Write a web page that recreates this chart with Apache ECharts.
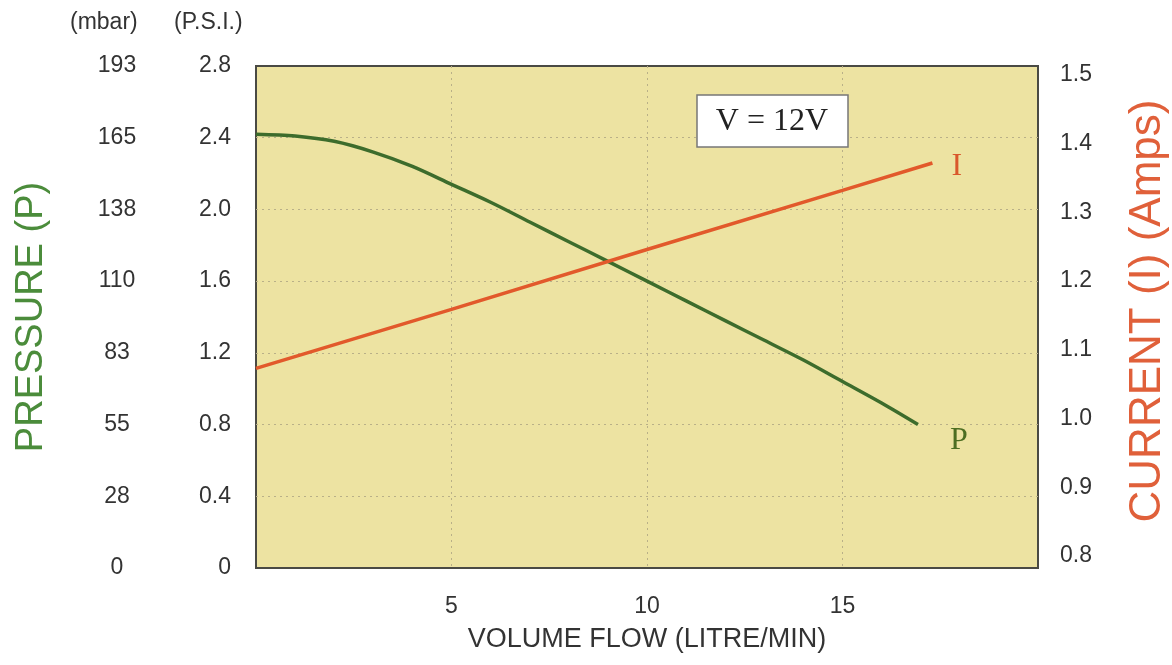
<!DOCTYPE html>
<html>
<head>
<meta charset="utf-8">
<script src="https://cdn.jsdelivr.net/npm/echarts@6/dist/echarts.min.js"></script>
<style>html,body{margin:0;padding:0;background:#fff;}#c{width:1172px;height:665px;}</style>
</head>
<body>
<div id="c"></div>
<script>
// ---- data ----
const flowP = [0, 1, 2, 3, 4, 5, 6, 7, 8, 9, 10, 11, 12, 13, 14, 15, 16, 16.93];
const pressurePsi = [2.42, 2.41, 2.38, 2.32, 2.24, 2.14, 2.04, 1.93, 1.82, 1.71, 1.60, 1.49, 1.38, 1.27, 1.16, 1.04, 0.92, 0.80];
const flowI = [0, 5, 10, 15, 17.3];
const currentAmps = [1.073, 1.159, 1.246, 1.332, 1.372];
const psiLabels = ['0', '0.4', '0.8', '1.2', '1.6', '2.0', '2.4', '2.8'];
const mbarLabels = ['0', '28', '55', '83', '110', '138', '165', '193'];
const ampLabels = ['0.8', '0.9', '1.0', '1.1', '1.2', '1.3', '1.4', '1.5'];

const FONT = '"Liberation Sans", Arial, sans-serif';
const SERIF = '"Liberation Serif", "Times New Roman", serif';
const chart = echarts.init(document.getElementById('c'), null, {renderer: 'canvas'});

const pToXY = flowP.map((f, i) => [f, pressurePsi[i]]);
const iToXY = flowI.map((f, i) => [f, currentAmps[i]]);
const gridLine = {show: true, showMinLine: false, showMaxLine: false,
  lineStyle: {type: [2, 4], color: '#b9b088', width: 1}};

chart.setOption({
  animation: false,
  backgroundColor: '#ffffff',
  grid: [
    {left: 256, right: 134, top: 66, bottom: 97, show: true, backgroundColor: '#ede3a2', borderColor: '#4a4a44', borderWidth: 2},
    {left: 256, right: 134, top: 75, bottom: 109, show: false}
  ],
  xAxis: [
    {
      type: 'value', gridIndex: 0, min: 0, max: 20, interval: 5,
      name: 'VOLUME FLOW (LITRE/MIN)', nameLocation: 'middle', nameGap: 58,
      nameTextStyle: {fontFamily: FONT, fontSize: 27, color: '#333'},
      axisLine: {show: false}, axisTick: {show: false},
      axisLabel: {showMinLabel: false, showMaxLabel: false, margin: 27, fontFamily: FONT, fontSize: 23, color: '#333'},
      splitLine: gridLine
    },
    {type: 'value', gridIndex: 1, min: 0, max: 20, show: false}
  ],
  yAxis: [
    {
      type: 'value', gridIndex: 0, position: 'left', min: 0, max: 2.8, interval: 0.4,
      axisLine: {show: false}, axisTick: {show: false},
      axisLabel: {margin: 25, fontFamily: FONT, fontSize: 23, color: '#333',
        formatter: v => psiLabels[Math.round(v / 0.4)]},
      splitLine: gridLine
    },
    {
      type: 'value', gridIndex: 0, position: 'left', min: 0, max: 2.8, interval: 0.4,
      axisLine: {show: false}, axisTick: {show: false}, splitLine: {show: false},
      axisLabel: {margin: 139, align: 'center', fontFamily: FONT, fontSize: 23, color: '#333',
        formatter: v => mbarLabels[Math.round(v / 0.4)]}
    },
    {
      type: 'value', gridIndex: 1, position: 'right', min: 0.8, max: 1.5, interval: 0.1,
      axisLine: {show: false}, axisTick: {show: false}, splitLine: {show: false},
      axisLabel: {margin: 22, fontFamily: FONT, fontSize: 23, color: '#333',
        formatter: v => ampLabels[Math.round((v - 0.8) / 0.1)]}
    }
  ],
  series: [
    {
      name: 'P', type: 'line', xAxisIndex: 0, yAxisIndex: 0, data: pToXY,
      smooth: 0.3, symbol: 'none', lineStyle: {color: '#3d6c2c', width: 3.5},
      endLabel: {show: true, formatter: 'P', fontFamily: SERIF, fontSize: 32, color: '#4d6e22', offset: [24, 16]}
    },
    {
      name: 'I', type: 'line', xAxisIndex: 1, yAxisIndex: 2, data: iToXY,
      symbol: 'none', lineStyle: {color: '#e2592b', width: 3.5},
      endLabel: {show: true, formatter: 'I', fontFamily: SERIF, fontSize: 32, color: '#d9582b', offset: [11, 4]}
    }
  ],
  graphic: [
    {type: 'text', left: 70, top: 11, style: {text: '(mbar)', font: '23px ' + FONT, fill: '#333'}},
    {type: 'text', left: 174, top: 11, style: {text: '(P.S.I.)', font: '23px ' + FONT, fill: '#333'}},
    {type: 'text', x: 32, y: 317, rotation: Math.PI / 2,
      style: {text: 'PRESSURE (P)', font: '38px ' + FONT, fill: '#4b8c3b', align: 'center', verticalAlign: 'middle'}},
    {type: 'text', x: 1148, y: 311, rotation: Math.PI / 2,
      style: {text: 'CURRENT (I) (Amps)', font: '44px ' + FONT, fill: '#e0603a', align: 'center', verticalAlign: 'middle'}},
    {type: 'rect', shape: {x: 697, y: 95, width: 151, height: 52},
      style: {fill: '#ffffff', stroke: '#777', lineWidth: 1.5}, z: 10},
    {type: 'text', x: 772, y: 122, z: 11,
      style: {text: 'V = 12V', font: '32px ' + SERIF, fill: '#222', align: 'center', verticalAlign: 'middle'}}
  ]
});
</script>
</body>
</html>
